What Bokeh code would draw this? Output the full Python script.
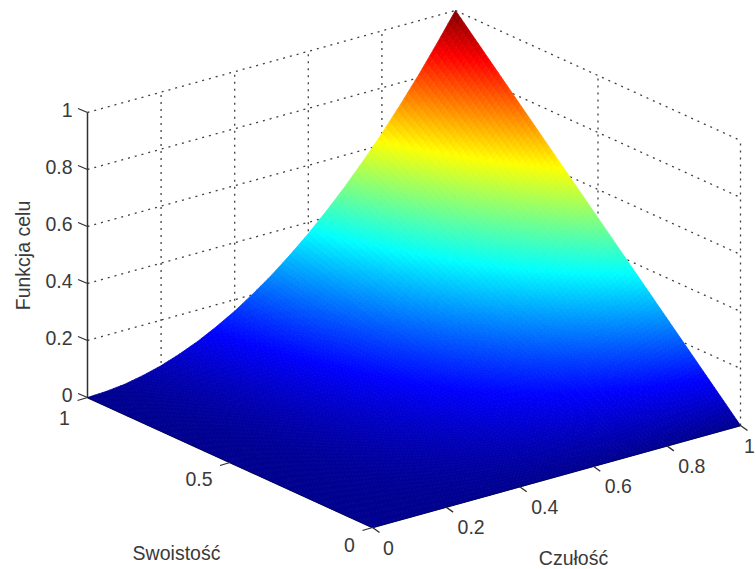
from bokeh.plotting import figure
from bokeh.models import Range1d
from bokeh.core.properties import value
from bokeh.embed import file_html
from bokeh.resources import INLINE
import numpy as np

# Data: axes and surface heights
czulosc = [0.00, 0.05, 0.10, 0.15, 0.20, 0.25, 0.30, 0.35, 0.40, 0.45, 0.50,
           0.55, 0.60, 0.65, 0.70, 0.75, 0.80, 0.85, 0.90, 0.95, 1.00]
swoistosc = [0.0, 0.25, 0.5, 0.75, 1.0]
z_s000 = [0, 0, 0, 0, 0, 0, 0, 0, 0, 0, 0, 0, 0, 0, 0, 0, 0, 0, 0, 0, 0]
z_s025 = [0, .001, .003, .006, .010, .016, .023, .031, .040, .051, .063,
          .076, .090, .106, .123, .141, .160, .181, .203, .226, .250]
z_s050 = [0, .001, .005, .011, .020, .031, .045, .061, .080, .101, .125,
          .151, .180, .211, .245, .281, .320, .361, .405, .451, .500]
z_s075 = [0, .002, .008, .017, .030, .047, .068, .092, .120, .152, .188,
          .227, .270, .317, .368, .422, .480, .542, .608, .677, .750]
z_s100 = [0, .003, .010, .023, .040, .063, .090, .123, .160, .203, .250,
          .303, .360, .423, .490, .563, .640, .723, .810, .903, 1.000]
funkcja_celu = [z_s000, z_s025, z_s050, z_s075, z_s100]
z_ticks = [0, 0.2, 0.4, 0.6, 0.8, 1]
z_tick_labels = ["0", "0.2", "0.4", "0.6", "0.8", "1"]
c_ticks = [0, 0.2, 0.4, 0.6, 0.8, 1]
c_tick_labels = ["0", "0.2", "0.4", "0.6", "0.8", "1"]
s_ticks = [0, 0.5, 1]
s_tick_labels = ["0", "0.5", "1"]

# View: axonometric projection of (czulosc, swoistosc, z) to page pixels
O = (372.0, 527.0)
CV = (368.0, -102.0)
SV = (-285.0, -130.0)
ZV = 285.0

def proj(c, s, z):
    c, s, z = np.asarray(c, float), np.asarray(s, float), np.asarray(z, float)
    return O[0] + CV[0] * c + SV[0] * s, O[1] + CV[1] * c + SV[1] * s - ZV * z

def jet(v):
    t = min(max(v, 0.0), 1.0) * 63 / 64 + 1 / 64
    r = np.clip(min(4 * t - 1.5, -4 * t + 4.5), 0, 1)
    g = np.clip(min(4 * t - 0.5, -4 * t + 3.5), 0, 1)
    b = np.clip(min(4 * t + 0.5, -4 * t + 2.5), 0, 1)
    return "#%02x%02x%02x" % (int(r * 255), int(g * 255), int(b * 255))

p = figure(width=756, height=569, x_range=Range1d(0, 756), y_range=Range1d(569, 0),
           output_backend="svg", toolbar_location=None, min_border=0,
           outline_line_color=None)
p.axis.visible = False
p.grid.visible = False

GRID = "#404040"
DASH = "2 5"

def seg(c0, s0, z0, c1, s1, z1, **kw):
    x0, y0 = proj(c0, s0, z0)
    x1, y1 = proj(c1, s1, z1)
    p.line([float(x0), float(x1)], [float(y0), float(y1)], **kw)

# Walls' dotted grid (behind the surface)
for z in z_ticks[1:]:
    seg(0, 1, z, 1, 1, z, line_color=GRID, line_dash=DASH, line_width=1.3)
    seg(1, 1, z, 1, 0, z, line_color=GRID, line_dash=DASH, line_width=1.3)
for c in c_ticks[1:]:
    seg(c, 1, 0, c, 1, 1, line_color=GRID, line_dash=DASH, line_width=1.3)
for s in s_ticks[:-1]:
    seg(1, s, 0, 1, s, 1, line_color=GRID, line_dash=DASH, line_width=1.3)

# Axis lines
AXC = "#303030"
seg(0, 1, 0, 0, 1, 1, line_color=AXC, line_width=1.5)
seg(0, 1, 0, 0, 0, 0, line_color="#101010", line_width=1.6)
seg(0, 0, 0, 1, 0, 0, line_color="#101010", line_width=1.6)

# Surface with interpolated shading: each table cell is painted in small facets
Z = np.array(funkcja_celu)
NS, NC = 25, 5
xs, ys, cols = [], [], []
for i in range(len(swoistosc) - 2, -1, -1):
    for a in range(NS - 1, -1, -1):
        for j in range(len(czulosc) - 2, -1, -1):
            for b in range(NC - 1, -1, -1):
                corners = [(a, b), (a + 1, b), (a + 1, b + 1), (a, b + 1)]
                cs, ss, zs = [], [], []
                for (aa, bb) in corners:
                    u, w = aa / NS, bb / NC
                    cs.append(czulosc[j] + (czulosc[j + 1] - czulosc[j]) * w)
                    ss.append(swoistosc[i] + (swoistosc[i + 1] - swoistosc[i]) * u)
                    zs.append((1 - u) * (1 - w) * Z[i, j] + (1 - u) * w * Z[i, j + 1]
                              + u * (1 - w) * Z[i + 1, j] + u * w * Z[i + 1, j + 1])
                px, py = proj(cs, ss, zs)
                xs.append(px.tolist())
                ys.append(py.tolist())
                cols.append(jet(float(np.mean(zs))))
p.patches(xs, ys, fill_color=cols, line_color=cols, line_width=0.8)

# Tick marks
TICK = "#303030"
for z in z_ticks:
    x, y = proj(0, 1, z)
    p.line([float(x) - 9.5, float(x)], [float(y) - 4, float(y)], line_color=TICK, line_width=1.3)
for s in s_ticks:
    x, y = proj(0, s, 0)
    p.line([float(x) - 10, float(x)], [float(y) + 3, float(y)], line_color=TICK, line_width=1.3)
for c in c_ticks:
    x, y = proj(c, 0, 0)
    p.line([float(x), float(x) + 7], [float(y), float(y) + 5], line_color=TICK, line_width=1.3)

FONT = value("Liberation Sans")
TXT = "#3a3a3a"
FS = "19.5px"

# Tick labels
zx, zy = [], []
for z in z_ticks:
    x, y = proj(0, 1, z)
    zx.append(float(x) - 15)
    zy.append(float(y) - 3)
p.text(zx, zy, text=z_tick_labels, text_font=FONT, text_font_size=FS, text_color=TXT,
       text_align="right", text_baseline="middle")

sx, sy = [], []
for s, dx, dy in zip(s_ticks, [-23, -31, -23], [17, 16, 20]):
    x, y = proj(0, s, 0)
    sx.append(float(x) + dx)
    sy.append(float(y) + dy)
p.text(sx, sy, text=s_tick_labels, text_font=FONT, text_font_size=FS, text_color=TXT,
       text_align="center", text_baseline="middle")

cx, cy = [], []
for c in c_ticks:
    x, y = proj(c, 0, 0)
    cx.append(min(float(x) + (16 if c == 0 else 25), 749.0))
    cy.append(float(y) + 20)
p.text(cx, cy, text=c_tick_labels, text_font=FONT, text_font_size=FS, text_color=TXT,
       text_align="center", text_baseline="middle")

# Axis titles
p.text([176], [552], text=["Swoistość"], text_font=FONT, text_font_size=FS, text_color=TXT,
       text_align="center", text_baseline="middle")
p.text([573], [557], text=["Czułość"], text_font=FONT, text_font_size=FS, text_color=TXT,
       text_align="center", text_baseline="middle")
p.text([22], [255], text=["Funkcja celu"], text_font=FONT, text_font_size=FS, text_color=TXT,
       text_align="center", text_baseline="middle", angle=np.pi / 2)

open("out.html", "w").write(file_html(p, INLINE))
